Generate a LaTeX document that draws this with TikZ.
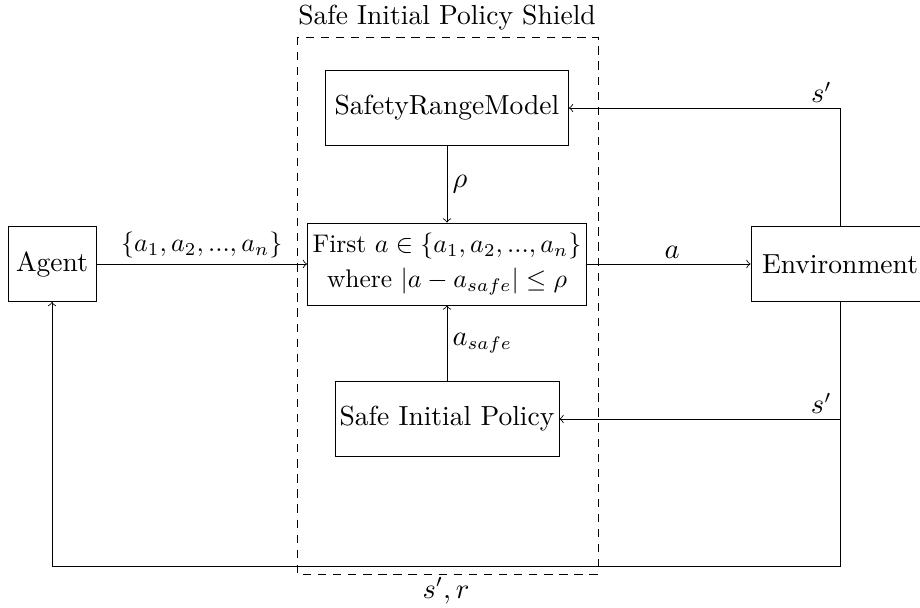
\documentclass[tikz,border=0pt]{standalone}
\begin{document}
\begin{tikzpicture}[x=0.3846pt,y=-0.3846pt,>=to,
  font=\fontsize{10.6}{13}\selectfont,
  every path/.style={line width=0.32pt},
  box/.style={draw, inner sep=0pt, align=center},
  lbl/.style={inner sep=2pt},
  tight/.style={font=\fontsize{9.8}{13.2}\selectfont}]
\useasboundingbox (0,0) rectangle (920,608);

% shield frame and its title
\draw[dash pattern=on 3.2pt off 2.6pt] (297,37) rectangle (598,574);
\node (title) at (447,18) {Safe Initial Policy Shield};

% blocks
\node[box, minimum width=243*0.3846pt, minimum height=75*0.3846pt] (srm) at (447,108) {SafetyRangeModel};
\node[box, tight, minimum width=279*0.3846pt, minimum height=82*0.3846pt] (sel) at (447,264)
  {First $a \in \{a_1, a_2, ..., a_n\}$\\ where $|a - a_{safe}| \leq \rho$};
\node[box, minimum width=224*0.3846pt, minimum height=75*0.3846pt] (sip) at (447,419) {Safe Initial Policy};
\node[box, minimum width=88*0.3846pt, minimum height=75*0.3846pt] (agent) at (52,264) {Agent};
\node[box, minimum width=178*0.3846pt, minimum height=75*0.3846pt] (env) at (840,264) {Environment};

% corner points of the feedback paths
\coordinate (c1) at (840,108);
\coordinate (c2) at (840,419);
\coordinate (c3) at (840,566);
\coordinate (c4) at (52,566);

% connectors
\draw[->] (agent) -- node[above, lbl, tight] {$\{a_1, a_2, ..., a_n\}$} (sel);
\draw[->] (sel) -- node[above, lbl, pos=0.52] {$a$} (env);
\draw[->] (srm) -- node[right, lbl] {$\rho$} (sel);
\draw[->] (sip) -- node[right, lbl] {$a_{safe}$} (sel);
\draw[->] (env.north) -- (c1) -- node[pos=0.01, above left, lbl] {$s'$} (srm.east);
\draw[->] (env.south) -- (c2) -- node[pos=0.01, above left, lbl] {$s'$} (sip.east);
\draw[->] (c2) -- (c3) -- node[below=1pt] {$s', r$} (c4) -- (agent.south);
\end{tikzpicture}
\end{document}
